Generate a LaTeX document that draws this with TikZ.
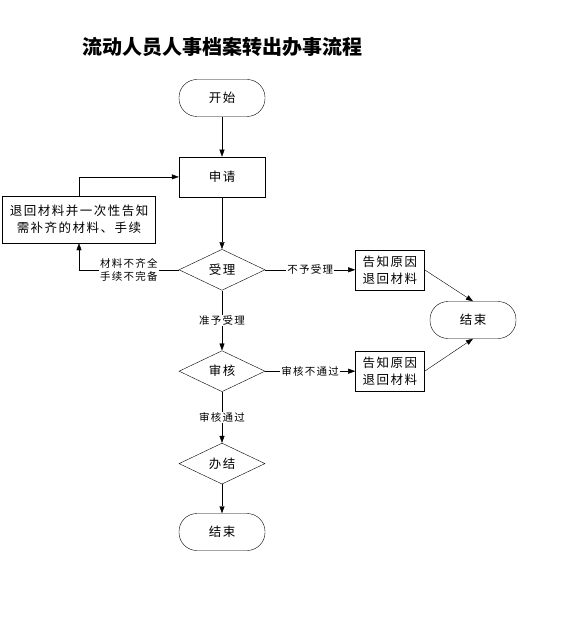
\documentclass[tikz,border=0pt]{standalone}
\usepackage{fontspec}
\newfontfamily\cjk{Noto Sans CJK SC}
\newfontfamily\cjksp[LetterSpace=12]{Noto Sans CJK SC}
\usetikzlibrary{positioning,arrows.meta,shapes.geometric}

\begin{document}
\begin{tikzpicture}[
  x=1pt, y=-1pt,
  node distance=40pt,
  every node/.style={font=\cjksp\fontsize{12.5}{17}\selectfont},
  term/.style={draw, rounded corners=18pt, minimum width=86pt, minimum height=37pt},
  proc/.style={draw, minimum width=86pt, minimum height=40pt, align=center, inner sep=2pt},
  dec/.style={draw, diamond, minimum width=86pt, minimum height=41pt, inner sep=0pt},
  lbl/.style={fill=white, inner sep=1pt, align=center, font=\cjksp\fontsize{10.5}{13}\selectfont},
  ar/.style={-{Triangle[length=7pt,width=5pt]}}
]
\useasboundingbox (0,0) rectangle (560,628);
\node[font=\cjk\bfseries\fontsize{20}{24}\selectfont] (title) at (222,47) {流动人员人事档案转出办事流程};
% main column
\node[term] (start) at (222,98) {开始};
\node[proc, below=40pt of start] (apply) {申请};
\node[dec, below=52pt of apply] (accept) {受理};
\node[dec, below=60pt of accept] (review) {审核};
\node[dec, below=51pt of review] (finish) {办结};
\node[term, below=29pt of finish] (end) {结束};
% side boxes
\node[proc, minimum width=153pt, minimum height=47pt] (back) at (79,219.5) {退回材料并一次性告知\\需补齐的材料、手续};
\node[proc, minimum width=69pt, right=90pt of accept] (rej1) {告知原因\\退回材料};
\node[proc, minimum width=69pt, right=90pt of review] (rej2) {告知原因\\退回材料};
\node[term] (end2) at (473,320) {结束};
\foreach \a/\b in {start/apply, apply/accept, finish/end} \draw[ar] (\a) -- (\b);
\draw[ar] (accept) -- node[lbl]{准予受理} (review);
\draw[ar] (review) -- node[lbl]{审核通过} (finish);
\draw[ar] (accept.west) -| node[lbl, pos=0.25]{材料不齐全\\手续不完备} (back.south);
\draw[ar] (back.north) |- (apply.west);
\draw[ar] (accept.east) -- node[lbl]{不予受理} (rej1.west);
\draw[ar] (review.east) -- node[lbl]{审核不通过} (rej2.west);
\draw[ar] (rej1.east) -- (end2.north);
\draw[ar] (rej2.east) -- (end2.south);
\end{tikzpicture}
\end{document}
